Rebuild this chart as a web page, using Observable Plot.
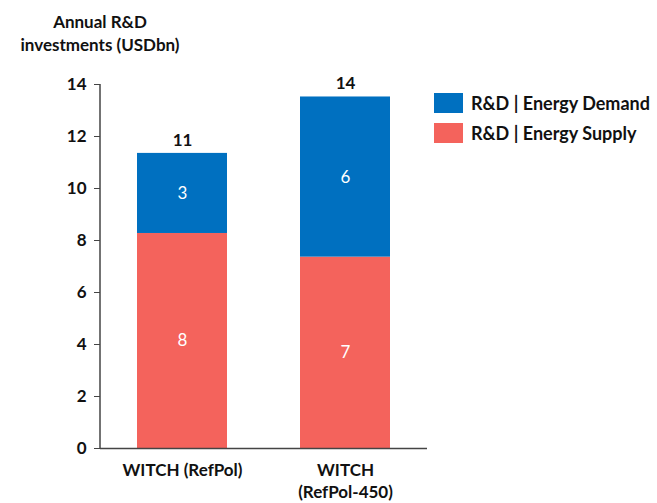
<!DOCTYPE html>
<html>
<head>
<meta charset="utf-8">
<script src="https://cdn.jsdelivr.net/npm/d3@7"></script>
<script src="https://cdn.jsdelivr.net/npm/@observablehq/plot@0.6"></script>
<style>
  html, body { margin: 0; padding: 0; background: #fff; }
  #wrap { position: relative; width: 657px; height: 503px; font-family: Lato, "Open Sans", sans-serif; }
  #title { position: absolute; left: 0; top: 10px; width: 200px; text-align: center; font-weight: bold; font-size: 17px; line-height: 23px; color: #111; }
  #legend { position: absolute; left: 434px; top: 93px; font-weight: bold; font-size: 18px; color: #111; }
  .item { display: flex; align-items: center; height: 20px; margin-bottom: 10px; white-space: nowrap; }
  .sw { width: 29px; height: 20px; margin-right: 8px; flex: none; }
</style>
</head>
<body>
<div id="wrap">
  <div id="title">Annual R&amp;D<br>investments (USDbn)</div>
  <div id="legend"></div>
</div>
<script>
// Scenarios and their annual R&D spending, billions of USD
const scenarios = ["WITCH (RefPol)", "WITCH (RefPol-450)"];
const scenarioLabels = ["WITCH (RefPol)", "WITCH\n(RefPol-450)"];
const series = ["R&D | Energy Supply", "R&D | Energy Demand"];
const supply = [8.27, 7.36];
const demand = [3.08, 6.16];
const colors = ["#F4635C", "#0070C0"];
const yTicks = [0, 2, 4, 6, 8, 10, 12, 14];

// Long table for the stacked bars
const rows = [];
scenarios.forEach((s, i) => {
  const vals = [supply[i], demand[i]];
  let base = 0;
  vals.forEach((v, j) => {
    rows.push({scenario: s, series: series[j], value: v, y1: base, y2: base + v, mid: base + v / 2});
    base += v;
  });
});
const totals = scenarios.map((s, i) => ({scenario: s, total: supply[i] + demand[i]}));

const fmt = d3.format(".0f");
const labelOf = new Map(scenarios.map((s, i) => [s, scenarioLabels[i]]));

const plot = Plot.plot({
  width: 657,
  height: 503,
  marginLeft: 100,
  marginRight: 230,
  marginTop: 84,
  marginBottom: 55,
  style: {fontFamily: "Lato, 'Open Sans', sans-serif", fontSize: "17px", color: "#111", background: "transparent"},
  x: {domain: scenarios, paddingInner: 0.45, paddingOuter: 0.225, label: null},
  y: {domain: [0, 14], label: null},
  color: {domain: series, range: colors},
  marks: [
    Plot.rectY(rows, {x: "scenario", y1: "y1", y2: "y2", fill: "series"}),
    Plot.text(rows, {x: "scenario", y: "mid", text: d => fmt(d.value), fill: "white", fontSize: 17}),
    Plot.text(totals, {x: "scenario", y: "total", text: d => fmt(d.total), dy: -13, fontWeight: "bold", fontSize: 17, fill: "#111"}),
    Plot.ruleY([0], {stroke: "#444", strokeWidth: 1.5}),
    Plot.axisY({ticks: yTicks, tickSize: 6, tickPadding: 8, fontWeight: "bold", fontSize: 17, stroke: "#444"}),
    Plot.axisX({tickSize: 0, tickPadding: 12, tickFormat: s => labelOf.get(s), fontWeight: "bold", fontSize: 17, lineHeight: 1.3})
  ]
});

// Vertical axis line along the left edge of the frame
const yr = plot.scale("y").range;
d3.select(plot).append("line")
  .attr("x1", 100).attr("x2", 100)
  .attr("y1", yr[0]).attr("y2", yr[1])
  .attr("stroke", "#444").attr("stroke-width", 1.5);

plot.style.position = "absolute";
plot.style.left = "0";
plot.style.top = "0";
document.getElementById("wrap").prepend(plot);

// Legend, demand listed first
const legend = document.getElementById("legend");
[1, 0].forEach(j => {
  const item = document.createElement("div");
  item.className = "item";
  item.innerHTML = `<div class="sw" style="background:${colors[j]}"></div><span></span>`;
  item.querySelector("span").textContent = series[j];
  legend.appendChild(item);
});
</script>
</body>
</html>
